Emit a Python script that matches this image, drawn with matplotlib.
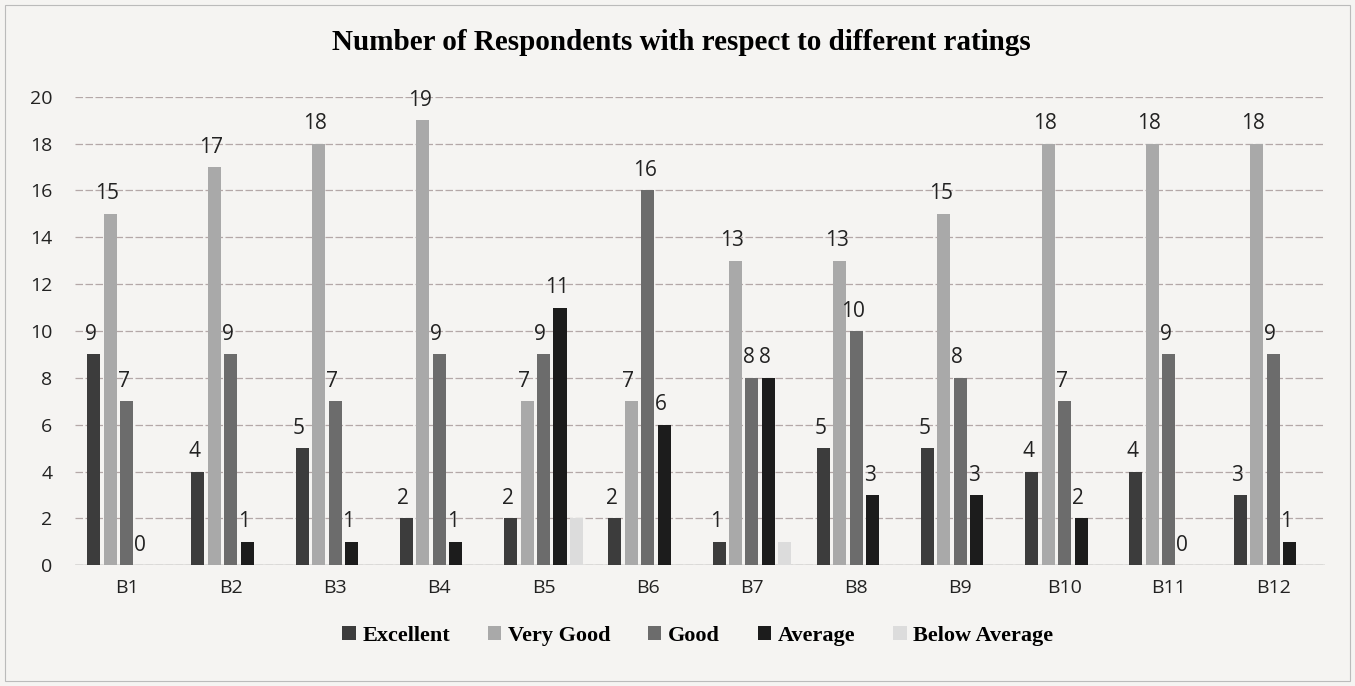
import matplotlib
matplotlib.use("Agg")
import matplotlib.pyplot as plt
import numpy as np

categories = ["B1", "B2", "B3", "B4", "B5", "B6", "B7", "B8", "B9", "B10", "B11", "B12"]
series_names = ["Excellent", "Very Good", "Good", "Average", "Below Average"]
excellent = [9, 4, 5, 2, 2, 2, 1, 5, 5, 4, 4, 3]
very_good = [15, 17, 18, 19, 7, 7, 13, 13, 15, 18, 18, 18]
good = [7, 9, 7, 9, 9, 16, 8, 10, 8, 7, 9, 9]
average = [0, 1, 1, 1, 11, 6, 8, 3, 3, 2, 0, 1]
below_average = [0, 0, 0, 0, 2, 0, 1, 0, 0, 0, 0, 0]
yticks = list(range(0, 21, 2))

series = [excellent, very_good, good, average, below_average]
colors = ["#3c3c3c", "#a9a9a9", "#6c6c6c", "#1c1c1c", "#dcdcdc"]
labeled = [True, True, True, True, False]

bg = "#f5f4f2"
fig = plt.figure(figsize=(13.55, 6.86), dpi=100, facecolor=bg)
ax = fig.add_axes([0.055, 0.176, 0.923, 0.683], facecolor=bg)

x = np.arange(len(categories))
step = 0.158
width = 0.125
for i, (vals, col, lab, name) in enumerate(zip(series, colors, labeled, series_names)):
    pos = x + (i - 2) * step
    ax.bar(pos, vals, width=width, color=col, label=name, zorder=3)
    if lab:
        for xp, v in zip(pos, vals):
            ax.text(xp - 0.03, v + 0.4, str(v), ha="center", va="bottom",
                    fontsize=15, color="#222222", family="Open Sans", zorder=4)

ax.set_xlim(-0.5, len(categories) - 0.5)
ax.set_ylim(0, 20)
ax.set_yticks(yticks)
ax.set_yticklabels([str(t) for t in yticks], fontsize=14, family="Open Sans", color="#222222")
ax.set_xticks(x)
ax.set_xticklabels(categories, fontsize=14, family="Open Sans", color="#222222")
ax.tick_params(axis="both", length=0)
ax.tick_params(axis="x", pad=10)
ax.tick_params(axis="y", pad=16)
for s in ax.spines.values():
    s.set_visible(False)
ax.grid(axis="y", color="#b4a8a8", linestyle=(0, (6, 2)), linewidth=0.9, zorder=0)
ax.axhline(0, color="#9a9a9a", linewidth=1.0, zorder=2)

fig.suptitle("Number of Respondents with respect to different ratings",
             x=0.503, y=0.958, fontsize=21, fontweight="bold", family="Liberation Serif")

fig.legend(loc="center", bbox_to_anchor=(0.515, 0.073), ncol=5, frameon=False,
           prop={"family": "Liberation Serif", "weight": "bold", "size": 16},
           handlelength=0.6, handleheight=0.6, handletextpad=0.3, columnspacing=1.7)

fig.patches.append(plt.Rectangle((0.004, 0.008), 0.992, 0.985, transform=fig.transFigure,
                                 fill=False, edgecolor="#bbbbbb", linewidth=0.8))

fig.savefig("out.png", dpi=100, facecolor=bg)
